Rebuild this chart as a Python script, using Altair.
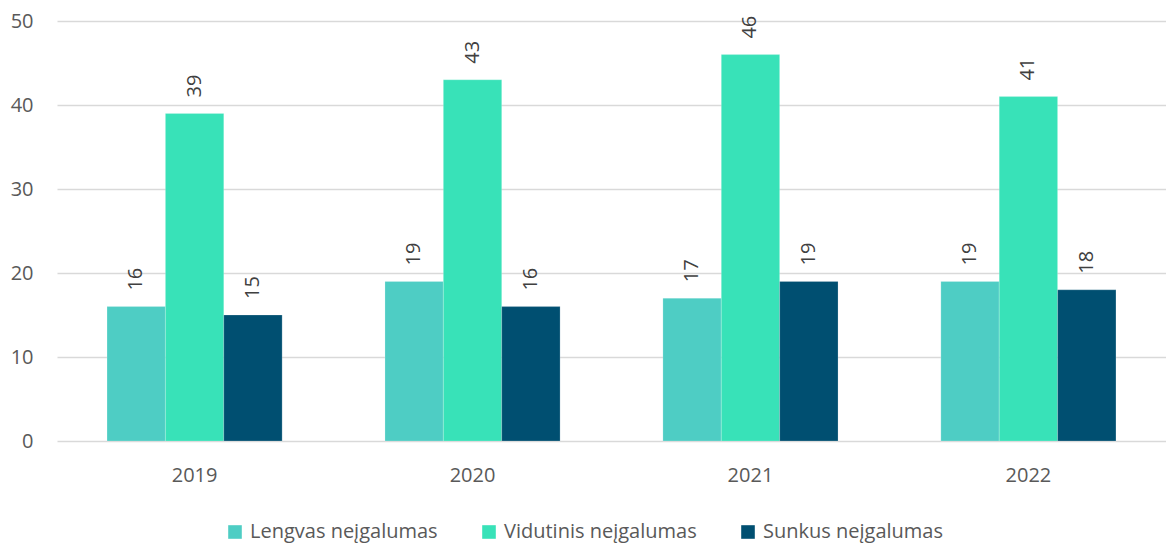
import altair as alt
import pandas as pd

years = ["2019", "2020", "2021", "2022"]
series = ["Lengvas neįgalumas", "Vidutinis neįgalumas", "Sunkus neįgalumas"]
lengvas = [16, 19, 17, 19]
vidutinis = [39, 43, 46, 41]
sunkus = [15, 16, 19, 18]
colors = ["#4ECDC4", "#38E2B8", "#004F71"]

rows = []
for name, vals in zip(series, [lengvas, vidutinis, sunkus]):
    for y, v in zip(years, vals):
        rows.append({"year": y, "series": name, "value": v})
df = pd.DataFrame(rows)

FONT = "Open Sans"

x = alt.X("year:N", sort=years, title=None,
          scale=alt.Scale(paddingInner=0.37, paddingOuter=0.18),
          axis=alt.Axis(labelAngle=0, domain=False, ticks=False, labelFontSize=20,
                        labelColor="#595959", labelFont=FONT, labelPadding=24))
xo = alt.XOffset("series:N", sort=series, scale=alt.Scale(paddingInner=0, paddingOuter=0))
y = alt.Y("value:Q", title=None,
          scale=alt.Scale(domain=[0, 50], nice=False),
          axis=alt.Axis(values=[0, 10, 20, 30, 40, 50], domain=False, ticks=False,
                        labelFontSize=20, labelColor="#595959", labelFont=FONT,
                        labelPadding=24, gridColor="#d9d9d9", gridWidth=1.3))

base = alt.Chart(df)

bars = base.mark_bar(stroke="white", strokeWidth=0.4, strokeOpacity=0.5).encode(
    x=x, xOffset=xo, y=y,
    color=alt.Color("series:N", sort=series,
                    scale=alt.Scale(domain=series, range=colors),
                    legend=alt.Legend(title=None, orient="none", direction="horizontal",
                                      legendX=168, legendY=501,
                                      symbolType="square", symbolSize=185,
                                      symbolStrokeWidth=0, labelFontSize=20,
                                      labelFont=FONT, labelColor="#595959",
                                      labelLimit=0,
                                      labelOffset=5, columnPadding=41)),
)

labels = base.mark_text(angle=270, align="left", baseline="middle", dx=16,
                        fontSize=20, font=FONT, color="#404040").encode(
    x=x, xOffset=xo, y=y, text=alt.Text("value:Q"),
)

chart = alt.layer(bars, labels).properties(
    width=1109, height=420,
    autosize=alt.AutoSizeParams(type="none"),
    padding={"left": 49, "top": 13, "right": 0, "bottom": 103},
).configure_view(stroke=None)

chart.save("out.html", embed_options={"renderer": "svg", "actions": False})
